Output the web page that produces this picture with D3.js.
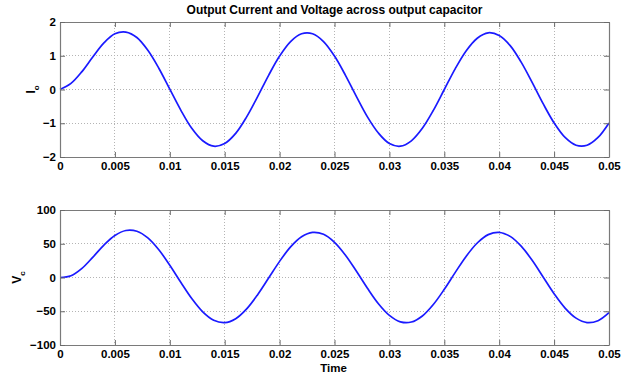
<!DOCTYPE html>
<html>
<head>
<meta charset="utf-8">
<script src="https://cdn.jsdelivr.net/npm/d3@7"></script>
<style>
  html, body { margin: 0; padding: 0; background: #ffffff; }
  svg { display: block; }
  text { font-family: "Liberation Sans", Arial, sans-serif; font-weight: bold; fill: #000; }
</style>
</head>
<body>
<svg id="chart" width="621" height="377"></svg>
<script>
// Time samples (s), one per millisecond
const time = [
  0.000,0.001,0.002,0.003,0.004,0.005,0.006,0.007,0.008,0.009,
  0.010,0.011,0.012,0.013,0.014,0.015,0.016,0.017,0.018,0.019,
  0.020,0.021,0.022,0.023,0.024,0.025,0.026,0.027,0.028,0.029,
  0.030,0.031,0.032,0.033,0.034,0.035,0.036,0.037,0.038,0.039,
  0.040,0.041,0.042,0.043,0.044,0.045,0.046,0.047,0.048,0.049,0.050
];

// Output current Io (A)
const currentIo = [
  0.00, 0.18, 0.53, 0.97, 1.38, 1.65, 1.70, 1.54, 1.16, 0.63,
  0.01,-0.61,-1.15,-1.52,-1.68,-1.60,-1.30,-0.81,-0.21, 0.42,
  0.99, 1.42, 1.65, 1.65, 1.42, 0.99, 0.42,-0.21,-0.81,-1.29,
 -1.60,-1.68,-1.52,-1.15,-0.62, 0.00, 0.62, 1.15, 1.52, 1.68,
  1.60, 1.30, 0.81, 0.21,-0.42,-0.99,-1.42,-1.65,-1.65,-1.42,-0.99
];

// Voltage across the output capacitor Vc (V)
const voltageVc = [
  0.0,  2.6, 13.5, 30.2, 48.0, 62.2, 69.6, 68.5, 58.7, 41.1,
 18.1, -7.1,-31.2,-50.9,-63.4,-66.9,-61.0,-46.4,-25.4, -0.8,
 23.9, 45.3, 60.3, 66.8, 64.0, 52.1, 33.0,  9.2,-15.9,-38.8,
-56.1,-65.7,-66.0,-57.0,-40.0,-17.5,  7.6, 31.6, 51.1, 63.5,
 66.9, 60.9, 46.4, 25.5,  0.8,-24.0,-45.3,-60.2,-66.8,-64.0,-52.1
];

const xTicks = [0, 0.005, 0.01, 0.015, 0.02, 0.025, 0.03, 0.035, 0.04, 0.045, 0.05];
const xTickLabels = ["0","0.005","0.01","0.015","0.02","0.025","0.03","0.035","0.04","0.045","0.05"];
const ioTicks = [-2, -1, 0, 1, 2];
const vcTicks = [-100, -50, 0, 50, 100];

const titleText = "Output Current and Voltage across output capacitor";
const xLabelText = "Time";

const svg = d3.select("#chart");
const left = 60, right = 609;

const x = d3.scaleLinear().domain([0, 0.05]).range([left, right]);

function panel(cfg) {
  const y = d3.scaleLinear().domain(cfg.domain).range([cfg.bottom, cfg.top]);
  const g = svg.append("g");

  // dotted grid
  const grid = g.append("g").attr("class", "grid");
  grid.selectAll("line.vx").data(xTicks.slice(1, -1)).join("line")
    .attr("x1", d => x(d)).attr("x2", d => x(d))
    .attr("y1", cfg.top).attr("y2", cfg.bottom);
  grid.selectAll("line.hy").data(cfg.ticks.slice(1, -1)).join("line")
    .attr("x1", left).attr("x2", right)
    .attr("y1", d => y(d)).attr("y2", d => y(d));
  grid.selectAll("line")
    .attr("stroke", "#b4b4b4").attr("stroke-width", 1)
    .attr("stroke-dasharray", "1,2").attr("shape-rendering", "crispEdges");

  // data line
  const line = d3.line()
    .x((d, i) => x(time[i]))
    .y(d => y(d))
    .curve(d3.curveCatmullRom.alpha(0.5));
  g.append("path").datum(cfg.values)
    .attr("d", line)
    .attr("fill", "none")
    .attr("stroke", "#1a1aff")
    .attr("stroke-width", 1.7)
    .attr("stroke-linejoin", "round");

  // axes with inward ticks
  const bottomAxis = d3.axisBottom(x).tickValues(xTicks)
    .tickFormat((d, i) => xTickLabels[i]).tickSizeInner(-5).tickSizeOuter(0).tickPadding(5);
  const topAxis = d3.axisTop(x).tickValues(xTicks).tickFormat("").tickSizeInner(-5).tickSizeOuter(0);
  const leftAxis = d3.axisLeft(y).tickValues(cfg.ticks).tickFormat(d3.format("d"))
    .tickSizeInner(-5).tickSizeOuter(0).tickPadding(4);
  const rightAxis = d3.axisRight(y).tickValues(cfg.ticks).tickFormat("").tickSizeInner(-5).tickSizeOuter(0);

  const axes = [
    g.append("g").attr("transform", `translate(0,${cfg.bottom})`).call(bottomAxis),
    g.append("g").attr("transform", `translate(0,${cfg.top})`).call(topAxis),
    g.append("g").attr("transform", `translate(${left},0)`).call(leftAxis),
    g.append("g").attr("transform", `translate(${right},0)`).call(rightAxis)
  ];
  axes.forEach(a => {
    a.select(".domain").attr("stroke", "#7a7a7a").attr("stroke-width", 1.2);
    a.selectAll(".tick line").attr("stroke", "#6a6a6a").attr("stroke-width", 1);
    a.selectAll("text").attr("font-size", 11.5).attr("font-family", "Liberation Sans, Arial, sans-serif")
      .attr("font-weight", "bold").attr("fill", "#000");
  });

  // y label with subscript
  const yl = svg.append("text")
    .attr("transform", `translate(${cfg.labelX},${(cfg.top + cfg.bottom) / 2}) rotate(-90)`)
    .attr("text-anchor", "middle")
    .attr("font-size", 12);
  yl.append("tspan").text(cfg.label);
  yl.append("tspan").attr("font-size", 8).attr("dy", 4).text(cfg.sub);
  return { y, g };
}

panel({ domain: [-2, 2], top: 22, bottom: 157, ticks: ioTicks, values: currentIo,
        label: "I", sub: "o", labelX: 35 });
panel({ domain: [-100, 100], top: 210, bottom: 345, ticks: vcTicks, values: voltageVc,
        label: "V", sub: "c", labelX: 21 });

svg.append("text")
  .attr("x", (left + right) / 2).attr("y", 14)
  .attr("text-anchor", "middle").attr("font-size", 12)
  .text(titleText);

svg.append("text")
  .attr("x", (left + right) / 2 - 1).attr("y", 372)
  .attr("text-anchor", "middle").attr("font-size", 11.5)
  .text(xLabelText);
</script>
</body>
</html>
